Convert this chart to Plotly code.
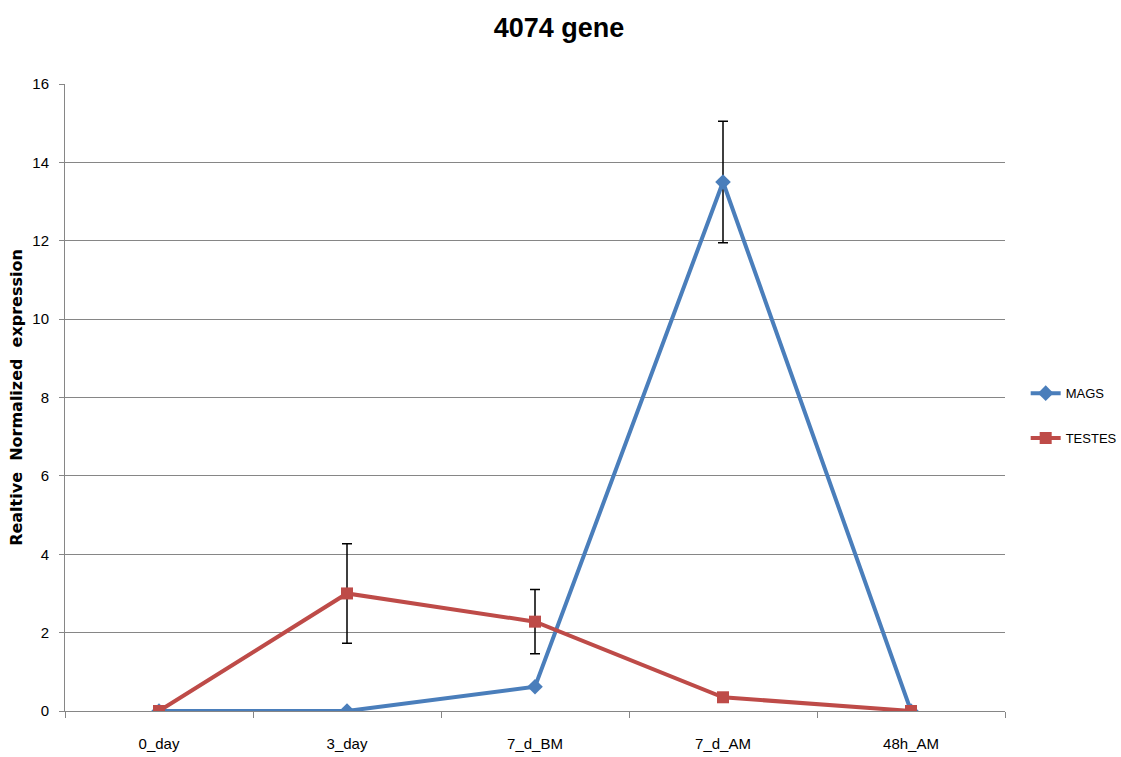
import plotly.graph_objects as go

categories = ["0_day", "3_day", "7_d_BM", "7_d_AM", "48h_AM"]
mags = [0, 0, 0.62, 13.5, 0]
mags_err = [0, 0, 0, 1.55, 0]
testes = [0, 3.0, 2.28, 0.35, 0]
testes_err = [0, 1.27, 0.82, 0, 0]

FONT = "Liberation Sans, Arial, sans-serif"

fig = go.Figure()
fig.add_trace(go.Scatter(
    x=categories, y=mags, name="MAGS", mode="lines+markers",
    line=dict(color="#4A7EBB", width=4),
    marker=dict(symbol="diamond", size=12, color="#4A7EBB"),
    error_y=dict(type="data", array=mags_err, visible=True, color="black", thickness=1.5, width=5),
    legendgroup="a",
))
fig.add_trace(go.Scatter(
    x=categories, y=testes, name="TESTES", mode="lines+markers",
    line=dict(color="#BE4B48", width=4),
    marker=dict(symbol="square", size=12, color="#BE4B48"),
    error_y=dict(type="data", array=testes_err, visible=True, color="black", thickness=1.5, width=5),
    legendgroup="b",
))

fig.update_layout(
    width=1121, height=757,
    margin=dict(l=65, r=116, t=84, b=46, autoexpand=False),
    paper_bgcolor="white", plot_bgcolor="white",
    title=dict(text="<b>4074 gene</b>", x=0.4986, xref="container", xanchor="center",
               y=0.963, yref="container", yanchor="middle",
               font=dict(family=FONT, size=27, color="black")),
    font=dict(family=FONT, color="black"),
    legend=dict(x=1.022, xanchor="left", y=0.471, yanchor="middle",
                font=dict(size=13, family=FONT), tracegroupgap=25, traceorder="grouped"),
    xaxis=dict(type="category", range=[-0.5, 4.5], showgrid=False, showline=True, automargin=False,
               linecolor="#868686", linewidth=1, ticks="outside", tickson="boundaries",
               ticklen=6, tickcolor="#868686", tickfont=dict(size=15, family=FONT),
               ticklabelstandoff=19, zeroline=False),
    yaxis=dict(range=[0, 16], dtick=2, showgrid=True, gridcolor="#868686", gridwidth=1, automargin=False,
               showline=True, linecolor="#868686", ticks="outside", ticklen=5, tickcolor="#868686",
               tickfont=dict(size=15, family=FONT), ticklabelstandoff=7, zeroline=False,
               title=dict(text="<b>Realtive&nbsp; Normalized&nbsp; expression</b>",
                          font=dict(size=16, family="DejaVu Sans, sans-serif"), standoff=5)),
)

fig.write_html("out.html", config={"displayModeBar": False},
               post_script="document.body.style.margin='0';document.body.style.overflow='hidden';")
